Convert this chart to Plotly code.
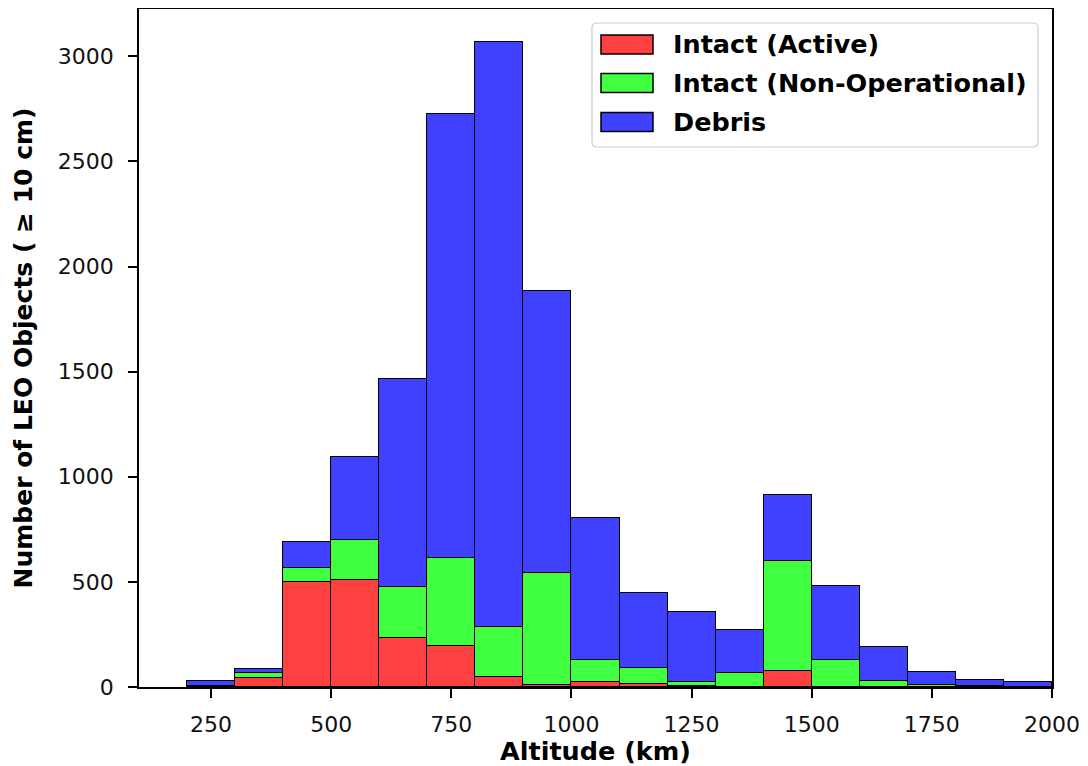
import plotly.graph_objects as go

# ---- data ----
bin_left = [200, 300, 400, 500, 600, 700, 800, 900, 1000, 1100, 1200, 1300, 1400, 1500, 1600, 1700, 1800, 1900]
bin_width = 100
active = [2, 41, 499, 511, 235, 197, 49, 8, 22, 14, 3, 1, 78, 2, 1, 0, 0, 0]
non_operational = [4, 24, 66, 186, 243, 416, 238, 533, 107, 78, 19, 64, 522, 127, 29, 10, 3, 2]
debris = [22, 21, 127, 397, 989, 2114, 2781, 1343, 677, 354, 337, 205, 311, 352, 160, 60, 30, 23]

series_names = ["Intact (Active)", "Intact (Non-Operational)", "Debris"]
series_values = [active, non_operational, debris]
series_colors = ["#ff4040", "#40ff40", "#4040ff"]

x_ticks = [250, 500, 750, 1000, 1250, 1500, 1750, 2000]
y_ticks = [0, 500, 1000, 1500, 2000, 2500, 3000]

FONT = "DejaVu Sans"
centers = [b + bin_width / 2 for b in bin_left]

fig = go.Figure()
for name, vals, col in zip(series_names, series_values, series_colors):
    fig.add_trace(go.Bar(
        x=centers, y=vals, width=bin_width, name=name,
        marker=dict(color=col, line=dict(color="black", width=1.5)),
        showlegend=False,
    ))

# ---- layout geometry (page body has an 8px default margin) ----
OFF = 8
W, H = 1088 - OFF, 766 - OFF
L, R, T, B = 139 - OFF, 36, 9 - OFF, 79
pw, ph = W - L - R, H - T - B

def px(x):  # viewport pixel -> paper x
    return (x - OFF - L) / pw

def py(y):  # viewport pixel -> paper y
    return (H - B - (y - OFF)) / ph

fig.update_layout(
    width=W, height=H,
    margin=dict(l=L, r=R, t=T, b=B, autoexpand=False),
    barmode="stack", bargap=0,
    plot_bgcolor="white", paper_bgcolor="white",
    font=dict(family=FONT, size=22, color="black"),
)
fig.update_xaxes(
    range=[100, 2000], tickvals=x_ticks, ticks="outside", ticklen=9, tickwidth=1.5,
    tickcolor="black", showline=True, linecolor="black", linewidth=1.5, mirror=True,
    showgrid=False, zeroline=False, automargin=False, ticklabelstandoff=8,
    tickfont=dict(family=FONT, size=22, color="#111111"),
    title=dict(text="<b>Altitude (km)</b>", font=dict(family=FONT, size=25.5, color="black"), standoff=12),
)
fig.update_yaxes(
    range=[0, 3225], tickvals=y_ticks, ticks="outside", ticklen=9, tickwidth=1.5,
    tickcolor="black", showline=True, linecolor="black", linewidth=1.5, mirror=True,
    showgrid=False, zeroline=False, automargin=False, ticklabelstandoff=10,
    tickfont=dict(family=FONT, size=22, color="#111111"),
    title=dict(text="<b>Number of LEO Objects ( ≥ 10 cm)</b>", font=dict(family=FONT, size=25, color="black"), standoff=18),
)

# ---- legend drawn as shapes/annotations (matplotlib-style wide swatches) ----
bx0, bx1, by0, by1 = px(592), px(1038), py(147), py(23)
rx, ry = 5 / pw, 5 / ph
path = (f"M{bx0+rx},{by1} L{bx1-rx},{by1} Q{bx1},{by1} {bx1},{by1-ry} "
        f"L{bx1},{by0+ry} Q{bx1},{by0} {bx1-rx},{by0} L{bx0+rx},{by0} "
        f"Q{bx0},{by0} {bx0},{by0+ry} L{bx0},{by1-ry} Q{bx0},{by1} {bx0+rx},{by1} Z")
shapes = [dict(type="path", xref="paper", yref="paper", path=path,
               fillcolor="rgba(255,255,255,0.85)", line=dict(color="#cccccc", width=1.2))]
annotations = []
row_tops = [35, 73.5, 112.5]
for name, col, top in zip(series_names, series_colors, row_tops):
    shapes.append(dict(type="rect", xref="paper", yref="paper",
                       x0=px(601), x1=px(653), y0=py(top + 19), y1=py(top),
                       fillcolor=col, line=dict(color="black", width=1.5)))
    annotations.append(dict(xref="paper", yref="paper", x=px(670.5), y=py(top + 9.5),
                            xanchor="left", yanchor="middle", showarrow=False,
                            text=f"<b>{name}</b>", font=dict(family=FONT, size=25.5, color="black")))
fig.update_layout(shapes=shapes, annotations=annotations)

fig.write_html("out.html")
